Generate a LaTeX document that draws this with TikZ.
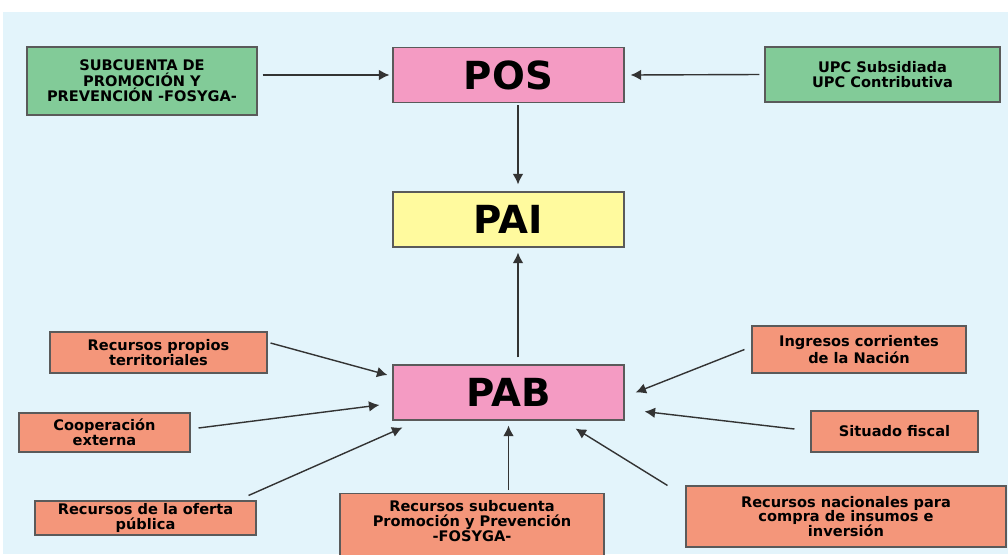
\documentclass[tikz,border=0pt]{standalone}
\usepackage{fontspec}
\setmainfont{DejaVu Sans}
\usetikzlibrary{arrows.meta}

\definecolor{fondo}{HTML}{E3F4FB}
\definecolor{verde}{HTML}{82CB98}
\definecolor{rosa}{HTML}{F49BC3}
\definecolor{amarillo}{HTML}{FFFA9E}
\definecolor{salmon}{HTML}{F4967A}
\definecolor{borde}{HTML}{5A5A5A}
\definecolor{flecha}{HTML}{333333}

\tikzset{
  caja/.style={draw=borde, line width=0.6pt, inner sep=0pt, align=center,
    font=\fontsize{8.3}{8.4}\selectfont\bfseries},
  cajaverde/.style={caja, fill=verde, font=\fontsize{8.3}{8.8}\selectfont\bfseries},
  cajasalmon/.style={caja, fill=salmon},
  plan/.style={draw=borde, line width=0.6pt, inner sep=0pt,
    minimum width=4.62cm, minimum height=1.1cm,
    font=\fontsize{22}{24}\selectfont\bfseries},
  flujo/.style={->, draw=flecha, line width=0.8pt}
}

\begin{document}
\begin{tikzpicture}[>={Latex[length=6pt,width=6pt]}]
		\useasboundingbox (0,0) rectangle (20.16,-11.08);
		\fill[white] (0,0) rectangle (20.16,-11.08);
		\fill[fondo] (0.06,-0.24) rectangle (20.16,-11.08);
		% planes
		\node[plan, fill=rosa] (pos) at (10.17,-1.5) {POS};
		\node[plan, fill=amarillo] (pai) at (10.17,-4.39) {PAI};
		\node[plan, fill=rosa] (pab) at (10.17,-7.85) {PAB};
		% fuentes del POS
		\node[cajaverde, minimum width=4.6cm, minimum height=1.36cm] (sfp) at (2.84,-1.62) {SUBCUENTA DE\\PROMOCIÓN Y\\PREVENCIÓN -FOSYGA-};
		\node[cajaverde, minimum width=4.7cm, minimum height=1.1cm] (upc) at (17.65,-1.49) {UPC Subsidiada\\UPC Contributiva};
		% fuentes del PAB
		\node[cajasalmon, minimum width=4.34cm, minimum height=0.82cm] (rpt) at (3.17,-7.05) {Recursos propios\\territoriales};
		\node[cajasalmon, minimum width=3.42cm, minimum height=0.78cm] (coop) at (2.09,-8.65) {Cooperación\\externa};
		\node[cajasalmon, minimum width=4.42cm, minimum height=0.68cm] (ofp) at (2.91,-10.36) {Recursos de la oferta\\pública};
		\node[cajasalmon, anchor=north, minimum width=5.28cm, inner ysep=4pt] (rsp) at (9.44,-9.86) {Recursos subcuenta\\Promoción y Prevención\\-FOSYGA-\\\strut};
		\node[cajasalmon, minimum width=4.28cm, minimum height=0.94cm] (icn) at (17.18,-6.99) {Ingresos corrientes\\de la Nación};
		\node[cajasalmon, minimum width=3.34cm, minimum height=0.82cm] (sif) at (17.89,-8.63) {Situado fiscal};
		\node[cajasalmon, minimum width=6.4cm, minimum height=1.22cm] (rnc) at (16.92,-10.33) {Recursos nacionales para\\compra de insumos e\\inversión};
		% flechas
		\draw[flujo] ([xshift=0.1cm]sfp.east |- pos.west) -- ([xshift=-0.06cm]pos.west);
		\draw[flujo] ([xshift=-0.1cm]upc.west) -- ([xshift=0.12cm]pos.east);
		\draw[flujo] ([shift={(0.19,-0.04)}]pos.south) -- ([shift={(0.19,0.14)}]pai.north);
		\draw[flujo] ([shift={(0.19,0.14)}]pab.north) -- ([shift={(0.19,-0.1)}]pai.south);
		\draw[flujo] ([shift={(0.06,0.19)}]rpt.east) -- ([shift={(-0.1,0.35)}]pab.west);
		\draw[flujo] ([shift={(0.16,0.09)}]coop.east) -- ([shift={(-0.26,-0.25)}]pab.west);
		\draw[flujo] ([shift={(-0.16,0.1)}]ofp.north east) -- ([shift={(0.2,-0.14)}]pab.south west);
		\draw[flujo] ([yshift=0.06cm]pab.south |- rsp.north) -- ([yshift=-0.1cm]pab.south);
		\draw[flujo] ([xshift=-0.14cm]icn.west) -- ([xshift=0.22cm]pab.east);
		\draw[flujo] ([shift={(-0.32,0.05)}]sif.west) -- ([shift={(0.4,0.18)}]pab.south east);
		\draw[flujo] ([shift={(-0.36,0)}]rnc.north west) -- ([shift={(-0.98,-0.16)}]pab.south east);
	\end{tikzpicture}
\end{document}
